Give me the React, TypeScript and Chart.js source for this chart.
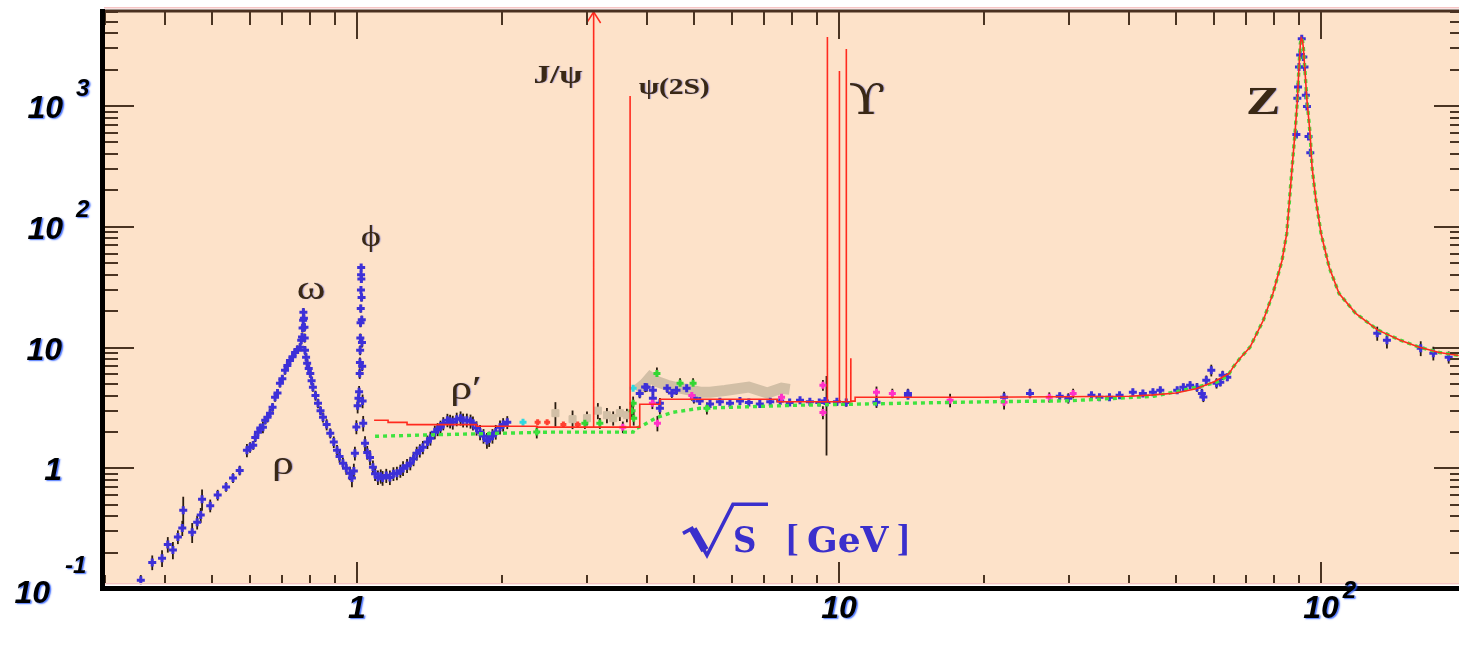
import React, { useEffect, useRef } from "react";
import { Chart, registerables } from "chart.js";

Chart.register(...registerables);

type Pt = [number, number];
type PtE = [number, number, number];

// ---- measured data: [sqrt(s) GeV, R, error] ----
const rhoOmegaPts: PtE[] = [
  [0.356, 0.118, 0.01], [0.376, 0.166, 0.02], [0.394, 0.18, 0.025], [0.405, 0.234, 0.03],
  [0.415, 0.21, 0.03], [0.425, 0.27, 0.03], [0.434, 0.32, 0.04], [0.436, 0.45, 0.12],
  [0.455, 0.295, 0.05], [0.466, 0.357, 0.04], [0.474, 0.41, 0.05], [0.477, 0.553, 0.1],
  [0.496, 0.49, 0.05], [0.514, 0.6, 0.05], [0.535, 0.7, 0.05], [0.553, 0.83, 0.06],
  [0.571, 0.96, 0.07], [0.591, 1.41, 0.15], [0.6, 1.49, 0.12], [0.609, 1.55, 0.1],
  [0.615, 1.8, 0.12], [0.623, 1.99, 0.15], [0.63, 2.15, 0.15], [0.638, 2.19, 0.2],
  [0.645, 2.5, 0.15], [0.652, 2.64, 0.2], [0.66, 2.86, 0.2], [0.668, 3.2, 0.2],
  [0.676, 3.87, 0.25], [0.684, 4.2, 0.25], [0.692, 5.06, 0.3], [0.7, 5.5, 0.3],
  [0.709, 6.47, 0.4], [0.717, 7.1, 0.4], [0.726, 7.8, 0.5], [0.735, 8.4, 0.5],
  [0.744, 9.1, 0.6], [0.752, 9.6, 0.6], [0.762, 10.05, 0.6], [0.766, 11.5, 0.7],
  [0.769, 12.2, 0.8], [0.771, 14.5, 0.9], [0.773, 16.8, 1.0], [0.774, 19.6, 1.2],
  [0.776, 17.5, 1.0], [0.778, 14.7, 0.9], [0.779, 12.0, 0.8], [0.78, 9.5, 0.6],
  [0.784, 8.3, 0.5], [0.788, 7.4, 0.5], [0.794, 6.7, 0.4], [0.8, 6.1, 0.4],
  [0.805, 5.3, 0.35], [0.81, 4.68, 0.3], [0.82, 4.0, 0.3], [0.83, 3.45, 0.25],
  [0.84, 3.0, 0.2], [0.85, 2.64, 0.2], [0.865, 2.3, 0.2], [0.88, 1.95, 0.15],
  [0.895, 1.65, 0.15], [0.909, 1.41, 0.12], [0.92, 1.25, 0.12], [0.935, 1.1, 0.1],
  [0.95, 1.0, 0.1], [0.967, 0.91, 0.1], [0.976, 0.83, 0.12], [0.985, 0.95, 0.12],
  [0.99, 1.33, 0.15],
];

const phiPts: PtE[] = [
  [0.997, 2.2, 0.25], [1.003, 3.3, 0.4], [1.007, 3.8, 0.4], [1.01, 4.3, 0.4],
  [1.013, 6.1, 0.5], [1.014, 7.5, 0.6], [1.015, 9.5, 0.7], [1.016, 12, 0.8],
  [1.017, 16, 1.0], [1.018, 21, 1.2], [1.019, 30, 1.5], [1.0195, 40, 2],
  [1.02, 46, 2], [1.021, 37, 2], [1.022, 26, 1.5], [1.023, 17, 1],
  [1.024, 11, 0.8], [1.025, 7.0, 0.5], [1.027, 3.6, 0.4], [1.03, 2.36, 0.3],
];

const continuumPts: PtE[] = [
  [1.039, 1.61, 0.2], [1.05, 1.35, 0.15], [1.064, 1.23, 0.15], [1.079, 1.02, 0.12],
  [1.09, 0.9, 0.1], [1.105, 0.84, 0.1], [1.12, 0.86, 0.1], [1.13, 0.83, 0.1],
  [1.15, 0.87, 0.1], [1.17, 0.84, 0.1], [1.19, 0.9, 0.1], [1.21, 0.91, 0.1],
  [1.23, 0.95, 0.1], [1.246, 1.0, 0.12], [1.27, 1.05, 0.12], [1.29, 1.1, 0.12],
  [1.31, 1.2, 0.14], [1.33, 1.33, 0.15], [1.35, 1.4, 0.15], [1.37, 1.49, 0.16],
  [1.4, 1.65, 0.18], [1.42, 1.77, 0.2], [1.45, 1.99, 0.22], [1.47, 2.1, 0.22],
  [1.49, 2.19, 0.24], [1.51, 2.35, 0.25], [1.54, 2.5, 0.27], [1.56, 2.45, 0.27],
  [1.58, 2.4, 0.27], [1.61, 2.55, 0.28], [1.64, 2.6, 0.3], [1.66, 2.5, 0.28],
  [1.69, 2.5, 0.28], [1.72, 2.45, 0.28], [1.74, 2.36, 0.27], [1.77, 2.15, 0.25],
  [1.8, 1.99, 0.25], [1.83, 1.85, 0.22], [1.86, 1.7, 0.22], [1.88, 1.75, 0.22],
  [1.91, 1.85, 0.22], [1.94, 2.0, 0.24], [1.98, 2.19, 0.25], [2.01, 2.3, 0.25],
  [2.05, 2.4, 0.25],
];

const charmPts: PtE[] = [
  [3.86, 4.17, 0.3], [3.96, 4.7, 0.35], [3.99, 4.68, 0.3], [4.11, 4.43, 0.3],
  [4.11, 3.8, 0.3], [4.25, 3.45, 0.3], [4.25, 3.14, 0.3], [4.4, 4.6, 0.3],
  [4.5, 4.2, 0.3], [4.6, 4.43, 0.3], [4.83, 4.6, 0.3], [5.0, 3.8, 0.3],
];

const bottomPts: PtE[] = [
  [5.14, 3.6, 0.15], [5.4, 3.4, 0.15], [5.66, 3.55, 0.15], [5.94, 3.45, 0.15],
  [6.23, 3.6, 0.15], [6.5, 3.5, 0.15], [6.85, 3.4, 0.15], [7.2, 3.55, 0.15],
  [7.55, 3.6, 0.15], [7.9, 3.5, 0.15], [8.3, 3.65, 0.15], [8.7, 3.55, 0.15],
  [9.1, 3.5, 0.15], [9.35, 3.6, 0.2], [9.42, 3.5, 2.2], [9.9, 3.55, 0.2],
  [10.35, 3.5, 0.2],
];

const highPts: PtE[] = [
  [11.96, 3.52, 0.3], [13.9, 4.17, 0.3], [13.9, 4.0, 0.2], [22.0, 3.87, 0.35],
  [24.9, 4.17, 0.3], [28.7, 3.95, 0.2], [29.9, 3.8, 0.3], [33.4, 4.02, 0.15],
  [34.7, 3.87, 0.15], [36.4, 3.87, 0.15], [38.2, 4.02, 0.15], [40.7, 4.26, 0.2],
  [42.7, 4.17, 0.2], [44.8, 4.26, 0.2], [46.4, 4.43, 0.2], [50.3, 4.43, 0.2],
  [51.8, 4.68, 0.25], [53.5, 4.87, 0.25], [55.3, 4.68, 0.3], [56.6, 4.17, 0.3],
  [57.0, 3.9, 0.3], [57.8, 5.35, 0.4], [59.2, 6.47, 0.6], [60.7, 5.06, 0.4],
  [61.8, 5.16, 0.3], [62.5, 5.9, 0.4], [63.9, 5.67, 0.3],
];

const zPeakPts: PtE[] = [
  [88.9, 580, 20], [89.3, 1160, 30], [89.6, 1440, 40], [90.0, 2100, 50],
  [90.5, 2650, 60], [91.2, 3600, 80], [91.9, 2550, 60], [92.4, 2100, 50],
  [93.0, 1230, 30], [93.5, 990, 30], [94.2, 560, 20], [95.0, 410, 15],
];

const zTailPts: PtE[] = [
  [130.8, 13.1, 1.5], [137, 11.5, 1.5], [161, 9.85, 1.2], [171, 8.96, 1.0], [184, 8.3, 0.8],
];

const tanPts: PtE[] = [
  [2.58, 2.86, 0.6], [2.8, 2.55, 0.4], [3.0, 2.6, 0.3], [3.16, 3.0, 0.4],
  [3.3, 2.75, 0.35], [3.4, 2.6, 0.3], [3.51, 2.86, 0.35], [3.63, 2.75, 0.3],
];

const tanBand: Pt[] = [
  [3.8, 4.4], [3.95, 5.0], [4.06, 5.67], [4.2, 5.2], [4.4, 4.87], [4.68, 4.6],
  [5.15, 4.26], [5.4, 4.26], [5.8, 4.4], [6.5, 4.7], [7.1, 4.2], [7.6, 4.6], [7.9, 4.5],
];

const greenPts: PtE[] = [
  [2.36, 2.0, 0.2], [2.97, 2.36, 0.2], [3.19, 2.36, 0.2], [3.72, 3.0, 0.4],
  [3.74, 3.45, 0.4], [3.75, 2.6, 0.3], [4.19, 6.1, 0.6], [4.68, 5.06, 0.4],
  [4.98, 5.06, 0.4], [5.32, 3.14, 0.3],
];

const magentaPts: PtE[] = [
  [3.56, 2.19, 0.2], [4.1, 3.45, 0.3], [4.2, 2.36, 0.3], [4.95, 4.0, 0.3],
  [7.6, 3.87, 0.3], [9.26, 4.87, 0.4], [9.26, 2.9, 0.3], [11.96, 4.26, 0.4],
  [12.9, 4.17, 0.3], [17.0, 3.66, 0.4], [22.0, 3.52, 0.4], [27.3, 3.87, 0.3],
  [30.6, 4.17, 0.3],
];

const cyanPts: Pt[] = [[2.21, 2.4], [3.74, 4.6]];
const redPts: Pt[] = [[2.37, 2.4], [2.48, 2.4], [2.68, 2.3], [2.87, 2.3]];

// ---- theory curves ----
const redCurve: Pt[] = [
  [1.085, 2.5], [1.16, 2.5], [1.16, 2.4], [1.27, 2.4], [1.27, 2.3], [1.77, 2.3],
  [1.77, 2.23], [2.36, 2.23], [2.36, 2.19], [3.097, 2.19], [3.097, 100000], [3.097, 2.19],
  [3.686, 2.19], [3.686, 1210], [3.686, 2.19], [3.86, 2.19], [3.86, 3.39], [4.25, 3.39],
  [4.25, 3.73], [7.45, 3.73], [7.45, 3.55], [9.46, 3.55], [9.46, 3730], [9.46, 3.55],
  [10.02, 3.55], [10.02, 1950], [10.02, 3.55], [10.355, 3.55], [10.355, 2970], [10.355, 3.55],
  [10.58, 3.55], [10.58, 8.15], [10.58, 3.6], [10.8, 3.6], [10.8, 3.87], [20, 3.87],
  [40, 3.95], [45, 4.05], [50, 4.2], [55, 4.55], [60, 5.2], [64.5, 6.1],
];

const greenCurve: Pt[] = [
  [1.09, 1.84], [1.5, 1.9], [2.0, 1.95], [2.5, 1.99], [3.0, 1.99], [3.5, 1.99],
  [3.74, 1.99], [3.76, 2.1], [3.92, 2.27], [4.19, 2.64], [4.53, 2.91], [5.15, 3.14],
  [6.03, 3.2], [8.3, 3.33], [13.4, 3.45], [20, 3.55], [30, 3.62], [40, 3.85],
  [45, 3.95], [51.8, 4.43], [56, 4.75], [60.7, 5.16], [64, 5.8],
];

const zCurve: Pt[] = [
  [65.7, 6.87], [68, 8.2], [71.2, 10.05], [75.9, 16.8], [79.5, 28.2], [83.0, 52.6],
  [84.9, 88], [86.0, 166], [87.1, 312], [88.3, 595], [89.3, 1110], [90.0, 2100],
  [90.6, 3300], [91.0, 3650], [91.5, 3500], [91.9, 3050], [92.5, 2100], [93.5, 1110],
  [94.9, 595], [95.8, 312], [97.6, 166], [100, 88], [104, 46], [109, 28],
  [118, 19.2], [131, 14], [146, 11.5], [160, 10.05], [176, 9.1], [193, 8.6],
];

// ---- axes ----
const X_MIN = 0.2986;
const X_MAX = 193.3;
const Y_MIN = 0.1;
const Y_MAX = 6124;
const JPSI_MASS = 3.097;

const xTickLabels = [
  { v: 1, base: "1", exp: "" },
  { v: 10, base: "10", exp: "" },
  { v: 100, base: "10", exp: "2" },
];
const yTickLabels = [
  { v: 0.1, base: "10", exp: "-1" },
  { v: 1, base: "1", exp: "" },
  { v: 10, base: "10", exp: "" },
  { v: 100, base: "10", exp: "2" },
  { v: 1000, base: "10", exp: "3" },
];

const peakLabels = [
  { text: "ρ", x: 0.702, y: 1.06, font: "34px 'Liberation Serif', serif" },
  { text: "ω", x: 0.803, y: 29.8, font: "34px 'Liberation Serif', serif" },
  { text: "ϕ", x: 1.069, y: 80.5, font: "30px 'Liberation Serif', serif" },
  { text: "ρ′", x: 1.683, y: 4.43, font: "34px 'Liberation Serif', serif" },
  { text: "J/ψ", x: 2.61, y: 1770, font: "bold 26px 'Liberation Serif', serif" },
  { text: "ψ(2S)", x: 4.55, y: 1406, font: "bold 23px 'Liberation Serif', serif" },
  { text: "ϒ", x: 11.43, y: 1057, font: "42px 'DejaVu Serif', serif" },
  { text: "Z", x: 75.8, y: 1037, font: "bold 40px 'Liberation Serif', serif" },
];
const axisTitlePos = { x: 8.18, y: 0.306 };

const PEACH = "#fde2c9";
const BLUE = "#3d30d8";
const TICK = "#4a3422";

const xy = (arr: (Pt | PtE)[]) => arr.map((p) => ({ x: p[0], y: p[1] }));

const errorSets: PtE[][] = [
  rhoOmegaPts, phiPts, continuumPts, charmPts, bottomPts, highPts,
  zPeakPts, zTailPts, tanPts, greenPts, magentaPts,
];

const decoPlugin = {
  id: "deco",
  beforeDraw(chart: any) {
    const { ctx, chartArea: a, width, height } = chart;
    ctx.save();
    ctx.fillStyle = "#ffffff";
    ctx.fillRect(0, 0, width, height);
    ctx.fillStyle = PEACH;
    ctx.fillRect(a.left, a.top, a.right - a.left, a.bottom - a.top);
    ctx.restore();
  },
  beforeDatasetsDraw(chart: any) {
    const { ctx, chartArea: a } = chart;
    const xs = chart.scales.x;
    const ys = chart.scales.y;
    ctx.save();
    ctx.beginPath();
    ctx.rect(a.left, a.top, a.right - a.left, a.bottom - a.top);
    ctx.clip();
    ctx.lineWidth = 1.8;
    ctx.strokeStyle = "#2a1c10";
    for (const set of errorSets) {
      for (const p of set) {
        const px = xs.getPixelForValue(p[0]);
        const lo = ys.getPixelForValue(Math.max(p[1] - p[2], 1e-3));
        const hi = ys.getPixelForValue(p[1] + p[2]);
        ctx.beginPath();
        ctx.moveTo(px, lo + 1);
        ctx.lineTo(px, hi - 1);
        ctx.stroke();
      }
    }
    ctx.restore();
  },
  afterDraw(chart: any) {
    const { ctx, chartArea: a } = chart;
    const xs = chart.scales.x;
    const ys = chart.scales.y;
    ctx.save();

    // J/psi arrow head
    const jx = xs.getPixelForValue(JPSI_MASS);
    ctx.strokeStyle = "#ff2a1e";
    ctx.lineWidth = 1.5;
    ctx.beginPath();
    ctx.moveTo(jx - 7, a.top + 12);
    ctx.lineTo(jx, a.top + 1);
    ctx.lineTo(jx + 7, a.top + 12);
    ctx.stroke();

    // ticks
    ctx.strokeStyle = TICK;
    ctx.lineWidth = 2;
    ctx.beginPath();
    for (let e = -1; e <= 3; e++) {
      for (let m = 1; m <= 9; m++) {
        const v = m * Math.pow(10, e);
        if (v < Y_MIN * 1.001 || v > Y_MAX) continue;
        const py = Math.round(ys.getPixelForValue(v));
        const major = m === 1;
        ctx.moveTo(a.left, py);
        ctx.lineTo(a.left + (major ? 30 : 14), py);
        ctx.moveTo(a.right, py);
        ctx.lineTo(a.right - (major ? 25 : 9), py);
      }
    }
    for (let e = -1; e <= 2; e++) {
      for (let m = 1; m <= 9; m++) {
        const v = m * Math.pow(10, e);
        if (v < X_MIN || v > X_MAX) continue;
        const px = Math.round(xs.getPixelForValue(v));
        const major = m === 1;
        ctx.moveTo(px, a.top);
        ctx.lineTo(px, a.top + (major ? 28 : 14));
        ctx.moveTo(px, a.bottom - 5);
        ctx.lineTo(px, a.bottom - 5 - (major ? 22 : 9));
      }
    }
    ctx.stroke();

    // frame
    ctx.fillStyle = "#f6c4c4";
    ctx.fillRect(a.left, a.top - 4, a.right - a.left, 1.5);
    ctx.fillRect(a.left, a.bottom - 6, a.right - a.left, 1.5);
    ctx.fillStyle = "#ffffff";
    ctx.fillRect(a.left, a.bottom - 4.5, a.right - a.left, 1.5);
    ctx.strokeStyle = "#4a3020";
    ctx.lineWidth = 3;
    ctx.beginPath();
    ctx.moveTo(a.left - 4, a.top);
    ctx.lineTo(a.right, a.top);
    ctx.stroke();
    ctx.fillStyle = "#000000";
    ctx.fillRect(a.left - 4, a.top - 2, 5, a.bottom + 2 - (a.top - 2));
    ctx.fillRect(a.left - 4, a.bottom - 3, a.right - a.left + 4, 5);

    // tick labels
    ctx.fillStyle = "#000000";
    ctx.shadowColor = "rgba(40,90,255,0.85)";
    ctx.shadowOffsetX = 1.5;
    ctx.shadowOffsetY = 1;
    ctx.shadowBlur = 1.5;
    const baseFont = "italic bold 32px 'Liberation Sans', Arial, sans-serif";
    const expFont = "italic bold 24px 'Liberation Sans', Arial, sans-serif";
    ctx.textBaseline = "alphabetic";
    for (const l of yTickLabels) {
      const py = ys.getPixelForValue(l.v);
      const isMin = l.v <= Y_MIN;
      const right = isMin ? 50 : 63;
      const base = isMin ? py + 14 : py + 12;
      ctx.font = baseFont;
      ctx.textAlign = "right";
      ctx.fillText(l.base, l.exp ? right : 62, base);
      if (l.exp) {
        ctx.font = expFont;
        ctx.textAlign = "left";
        ctx.fillText(l.exp, right + (isMin ? 15 : 13), isMin ? py - 16 : py - 10);
      }
    }
    for (const l of xTickLabels) {
      const px = xs.getPixelForValue(l.v);
      ctx.font = baseFont;
      ctx.textAlign = "center";
      ctx.fillText(l.base, px, a.bottom + 29);
      if (l.exp) {
        const w = ctx.measureText(l.base).width;
        ctx.font = expFont;
        ctx.textAlign = "left";
        ctx.fillText(l.exp, px + w / 2 + 4, a.bottom + 9);
      }
    }

    // peak labels (horizontally widened like the source)
    ctx.shadowColor = "rgba(60,80,220,0.5)";
    ctx.shadowOffsetX = 1;
    ctx.shadowOffsetY = 0;
    ctx.shadowBlur = 1;
    ctx.fillStyle = "#3a2814";
    ctx.textAlign = "center";
    ctx.textBaseline = "middle";
    for (const l of peakLabels) {
      ctx.save();
      ctx.translate(xs.getPixelForValue(l.x), ys.getPixelForValue(l.y));
      ctx.scale(1.28, 1);
      ctx.font = l.font;
      ctx.fillText(l.text, 0, 0);
      ctx.restore();
    }

    // axis title  sqrt(s) [GeV]
    ctx.shadowColor = "transparent";
    const ax = xs.getPixelForValue(axisTitlePos.x);
    const ay = ys.getPixelForValue(axisTitlePos.y);
    ctx.strokeStyle = "#3a2fcc";
    ctx.fillStyle = "#3a2fcc";
    ctx.lineJoin = "miter";
    ctx.lineWidth = 3.5;
    ctx.beginPath();
    ctx.moveTo(ax - 114, ay + 3);
    ctx.lineTo(ax - 105, ay - 2);
    ctx.lineTo(ax - 90, ay + 25);
    ctx.lineTo(ax - 64, ay - 26);
    ctx.lineTo(ax - 29, ay - 26);
    ctx.stroke();
    ctx.lineWidth = 8;
    ctx.beginPath();
    ctx.moveTo(ax - 104, ay - 1);
    ctx.lineTo(ax - 92, ay + 20);
    ctx.stroke();
    ctx.textBaseline = "alphabetic";
    ctx.textAlign = "left";
    ctx.font = "bold 36px 'DejaVu Serif', serif";
    ctx.save();
    ctx.translate(ax - 64, ay + 22);
    ctx.scale(0.9, 1);
    ctx.fillText("S", 0, 0);
    ctx.restore();
    ctx.font = "bold 38px 'Liberation Serif', serif";
    ctx.fillText("[", ax - 11, ay + 21);
    ctx.fillText("]", ax + 100, ay + 21);
    ctx.font = "bold 36px 'DejaVu Serif', serif";
    ctx.fillText("GeV", ax + 10, ay + 22);

    ctx.restore();
  },
};

export default function App() {
  const canvasRef = useRef<HTMLCanvasElement | null>(null);

  useEffect(() => {
    if (!canvasRef.current) return;
    const bluePts = [
      ...rhoOmegaPts, ...phiPts, ...continuumPts, ...charmPts,
      ...bottomPts, ...highPts, ...zPeakPts, ...zTailPts,
    ];
    const crossPoint = (color: string, r = 3.5, order = 5) => ({
      showLine: false,
      pointStyle: "cross",
      pointRadius: r,
      borderColor: color,
      backgroundColor: color,
      pointBorderWidth: 3,
      order,
    });
    const chart = new Chart(canvasRef.current, {
      type: "scatter",
      data: {
        datasets: [
          {
            label: "QPM",
            data: xy([...redCurve, ...zCurve]),
            showLine: true,
            borderColor: "#ff2a1e",
            borderWidth: 1.6,
            pointRadius: 0,
            order: 0,
          } as any,
          {
            label: "pQCD",
            data: xy([...greenCurve, ...zCurve]),
            showLine: true,
            borderColor: "#3fe33f",
            borderWidth: 3.4,
            borderDash: [4, 4],
            pointRadius: 0,
            order: 1,
          } as any,
          { label: "magenta", data: xy(magentaPts), ...crossPoint("#ff30c8", 3.5, 2) } as any,
          { label: "cyan", data: xy(cyanPts), ...crossPoint("#30d8e0", 3.5, 3) } as any,
          { label: "red", data: xy(redPts), ...crossPoint("#ff4030", 3, 4) } as any,
          { label: "green", data: xy(greenPts), ...crossPoint("#33d633", 3.5, 5) } as any,
          { label: "data", data: xy(bluePts), ...crossPoint(BLUE, 4, 6) } as any,
          {
            label: "tan",
            data: xy(tanPts),
            showLine: false,
            pointStyle: "rect",
            pointRadius: 5,
            backgroundColor: "#d2bfa6",
            borderColor: "#d2bfa6",
            order: 7,
          } as any,
          {
            label: "tanBand",
            data: xy(tanBand),
            showLine: true,
            borderColor: "#d2bfa6",
            borderWidth: 11,
            pointRadius: 0,
            order: 8,
          } as any,
        ],
      },
      options: {
        responsive: false,
        animation: false,
        devicePixelRatio: 1,
        events: [],
        layout: { padding: { left: 104, top: 11, right: 0, bottom: 59 }, autoPadding: false } as any,
        plugins: {
          legend: { display: false },
          tooltip: { enabled: false },
          title: { display: false },
        },
        scales: {
          x: { type: "logarithmic", min: X_MIN, max: X_MAX, display: false },
          y: { type: "logarithmic", min: Y_MIN, max: Y_MAX, display: false },
        },
      } as any,
      plugins: [decoPlugin],
    });
    return () => chart.destroy();
  }, []);

  return (
    <div style={{ position: "fixed", left: 0, top: 0, width: 1459, height: 648, background: "#fff" }}>
      <canvas ref={canvasRef} width={1459} height={648} style={{ display: "block" }} />
    </div>
  );
}
